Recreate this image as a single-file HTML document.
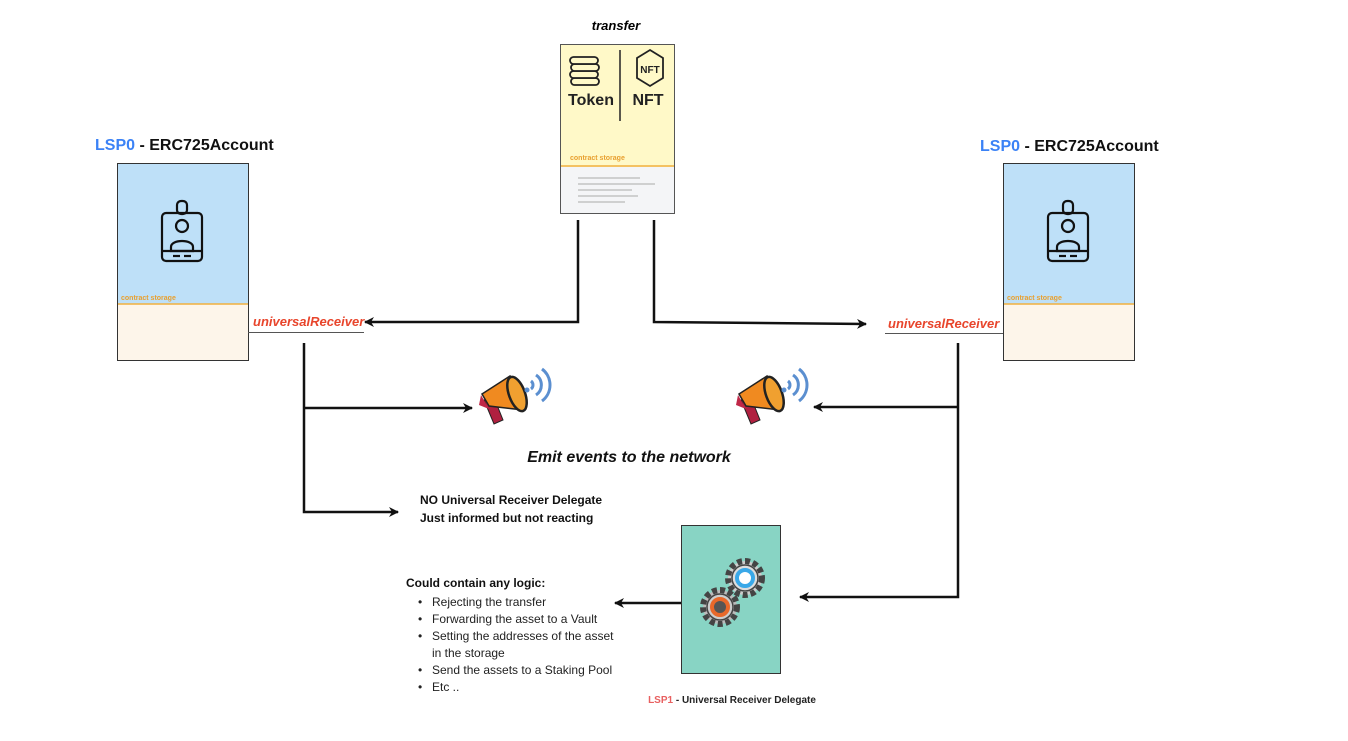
<!DOCTYPE html>
<html><head><meta charset="utf-8"><style>
html,body{margin:0;padding:0;background:#fff;width:1348px;height:741px;overflow:hidden}
text{font-family:"Liberation Sans",sans-serif}
</style></head><body>
<svg width="1348" height="741" viewBox="0 0 1348 741" xmlns="http://www.w3.org/2000/svg">
<defs>
<marker id="ah" markerWidth="10" markerHeight="10" refX="9" refY="5" orient="auto" markerUnits="userSpaceOnUse">
<path d="M0,0 L10,5 L0,10 L3,5 Z" fill="#111"/></marker>
</defs>
<!-- transfer box -->
<text x="616" y="30" font-size="13" font-weight="bold" font-style="italic" text-anchor="middle">transfer</text>
<rect x="560.5" y="44.5" width="114" height="169" fill="#fff9c8" stroke="#555"/>
<rect x="561" y="167" width="113" height="46" fill="#f4f5f7"/>
<line x1="561" y1="166" x2="674" y2="166" stroke="#f0b040" stroke-width="1.5"/>
<text x="570" y="160" font-size="7" font-weight="bold" fill="#e8a030">contract storage</text>
<g stroke="#aaa" stroke-width="1">
<line x1="578" y1="178" x2="640" y2="178"/><line x1="578" y1="184" x2="655" y2="184"/>
<line x1="578" y1="190" x2="632" y2="190"/><line x1="578" y1="196" x2="638" y2="196"/><line x1="578" y1="202" x2="625" y2="202"/></g>
<line x1="620" y1="50" x2="620" y2="121" stroke="#222" stroke-width="1.5"/>
<g fill="#fff9c8" stroke="#222" stroke-width="1.8">
<rect x="571" y="78" width="28" height="7" rx="3.5"/><rect x="570" y="71" width="28" height="7" rx="3.5"/>
<rect x="571" y="64" width="28" height="7" rx="3.5"/><rect x="570" y="57" width="28" height="7" rx="3.5"/>
<path d="M650,50 l13,8 v20 l-13,8 l-13,-8 v-20 z" fill="none"/></g>
<text x="650" y="73" font-size="10" font-weight="bold" fill="#222" text-anchor="middle">NFT</text>
<text x="591" y="105" font-size="16" font-weight="bold" text-anchor="middle" fill="#222">Token</text>
<text x="648" y="105" font-size="16" font-weight="bold" text-anchor="middle" fill="#222">NFT</text>

<!-- left account -->
<text x="95" y="150" font-size="16" font-weight="bold"><tspan fill="#3b82f6">LSP0</tspan><tspan fill="#111"> - ERC725Account</tspan></text>
<rect x="117.5" y="163.5" width="131" height="197" fill="#fdf5ea" stroke="#333"/>
<rect x="118" y="164" width="130" height="140" fill="#bee0f8"/>
<line x1="118" y1="304" x2="248" y2="304" stroke="#f0b040" stroke-width="1.5"/>
<text x="121" y="300" font-size="7" font-weight="bold" fill="#e8a030">contract storage</text>
<g fill="none" stroke="#111" stroke-width="2.2">
<rect x="162" y="213" width="40" height="48" rx="4"/><rect x="177" y="201" width="10" height="13" rx="4"/>
<circle cx="182" cy="226" r="6"/><path d="M171,247 c0,-8 22,-8 22,0 v4 h-22 z"/><line x1="162" y1="251" x2="202" y2="251"/>
<line x1="173" y1="256" x2="180" y2="256"/><line x1="184" y1="256" x2="191" y2="256"/></g>
<text x="253" y="326" font-size="13" font-weight="bold" font-style="italic" fill="#e8452c">universalReceiver</text>
<line x1="248" y1="332.5" x2="364" y2="332.5" stroke="#555" stroke-width="1"/>

<!-- right account -->
<text x="980" y="151" font-size="16" font-weight="bold"><tspan fill="#3b82f6">LSP0</tspan><tspan fill="#111"> - ERC725Account</tspan></text>
<rect x="1003.5" y="163.5" width="131" height="197" fill="#fdf5ea" stroke="#333"/>
<rect x="1004" y="164" width="130" height="140" fill="#bee0f8"/>
<line x1="1004" y1="304" x2="1134" y2="304" stroke="#f0b040" stroke-width="1.5"/>
<text x="1007" y="300" font-size="7" font-weight="bold" fill="#e8a030">contract storage</text>
<g fill="none" stroke="#111" stroke-width="2.2" transform="translate(886,0)">
<rect x="162" y="213" width="40" height="48" rx="4"/><rect x="177" y="201" width="10" height="13" rx="4"/>
<circle cx="182" cy="226" r="6"/><path d="M171,247 c0,-8 22,-8 22,0 v4 h-22 z"/><line x1="162" y1="251" x2="202" y2="251"/>
<line x1="173" y1="256" x2="180" y2="256"/><line x1="184" y1="256" x2="191" y2="256"/></g>
<text x="888" y="328" font-size="13" font-weight="bold" font-style="italic" fill="#e8452c">universalReceiver</text>
<line x1="885" y1="333.5" x2="1003" y2="333.5" stroke="#555" stroke-width="1"/>

<!-- connectors -->
<g fill="none" stroke="#111" stroke-width="2.5">
<path d="M578,220 V322 H365" marker-end="url(#ah)"/>
<path d="M654,220 V322 L866,324" marker-end="url(#ah)"/>
<path d="M304,343 V512 H398" marker-end="url(#ah)"/>
<path d="M304,408 H472" marker-end="url(#ah)"/>
<path d="M958,343 V597 H800" marker-end="url(#ah)"/>
<path d="M958,407 H814" marker-end="url(#ah)"/>
<path d="M681,603 H615" marker-end="url(#ah)"/>
</g>

<!-- megaphones -->
<g id="mp">
<path d="M484,400 l10,24 l9,-4 l-8,-20 z" fill="#b02040" stroke="#222" stroke-width="1"/>
<path d="M481,395 l-2,10 l10,4 z" fill="#c02848"/>
<path d="M482,394 l28,-18 l13,34 l-34,-4 z" fill="#f08a20" stroke="#222" stroke-width="1.5"/>
<ellipse cx="517" cy="394" rx="8" ry="18" fill="#f0a030" stroke="#222" stroke-width="2.5" transform="rotate(-20 517 394)"/>
<g fill="none" stroke="#5b8fd0" stroke-width="3"><path d="M531,389 a5,5 0 0 0 0,-8"/><path d="M536,395 a12,12 0 0 0 0,-20"/><path d="M542,401 a20,20 0 0 0 0,-32"/></g>
<circle cx="527" cy="390" r="2.5" fill="#5b8fd0"/>
</g>
<use href="#mp" transform="translate(257,0)"/>
<text x="629" y="462" font-size="16" font-weight="bold" font-style="italic" text-anchor="middle" fill="#111">Emit events to the network</text>

<text x="420" y="504" font-size="12" font-weight="bold" fill="#111">NO Universal Receiver Delegate</text>
<text x="420" y="522" font-size="12" font-weight="bold" fill="#111">Just informed but not reacting</text>

<text x="406" y="587" font-size="12" font-weight="bold" fill="#111">Could contain any logic:</text>
<g font-size="12" fill="#222">
<text x="418" y="606">•</text><text x="432" y="606">Rejecting the transfer</text>
<text x="418" y="623">•</text><text x="432" y="623">Forwarding the asset to a Vault</text>
<text x="418" y="640">•</text><text x="432" y="640">Setting the addresses of the asset</text>
<text x="432" y="657">in the storage</text>
<text x="418" y="674">•</text><text x="432" y="674">Send the assets to a Staking Pool</text>
<text x="418" y="691">•</text><text x="432" y="691">Etc ..</text></g>

<!-- delegate box -->
<rect x="681.5" y="525.5" width="99" height="148" fill="#88d4c4" stroke="#333"/>
<g stroke="#444" stroke-width="1.5">
<circle cx="745" cy="578" r="17" fill="#ccc" stroke-dasharray="5 3" stroke-width="6"/>
<circle cx="745" cy="578" r="13" fill="#ddd"/>
<circle cx="745" cy="578" r="8" fill="#fff" stroke="#3aa8e8" stroke-width="4"/>
<circle cx="720" cy="607" r="17" fill="#bbb" stroke-dasharray="5 3" stroke-width="6"/>
<circle cx="720" cy="607" r="13" fill="#ccc"/>
<circle cx="720" cy="607" r="8" fill="#555" stroke="#e8682a" stroke-width="4"/>
</g>
<text x="732" y="703" font-size="10" font-weight="bold" text-anchor="middle"><tspan fill="#e86060">LSP1</tspan><tspan fill="#222"> - Universal Receiver Delegate</tspan></text>
</svg>
</body></html>
